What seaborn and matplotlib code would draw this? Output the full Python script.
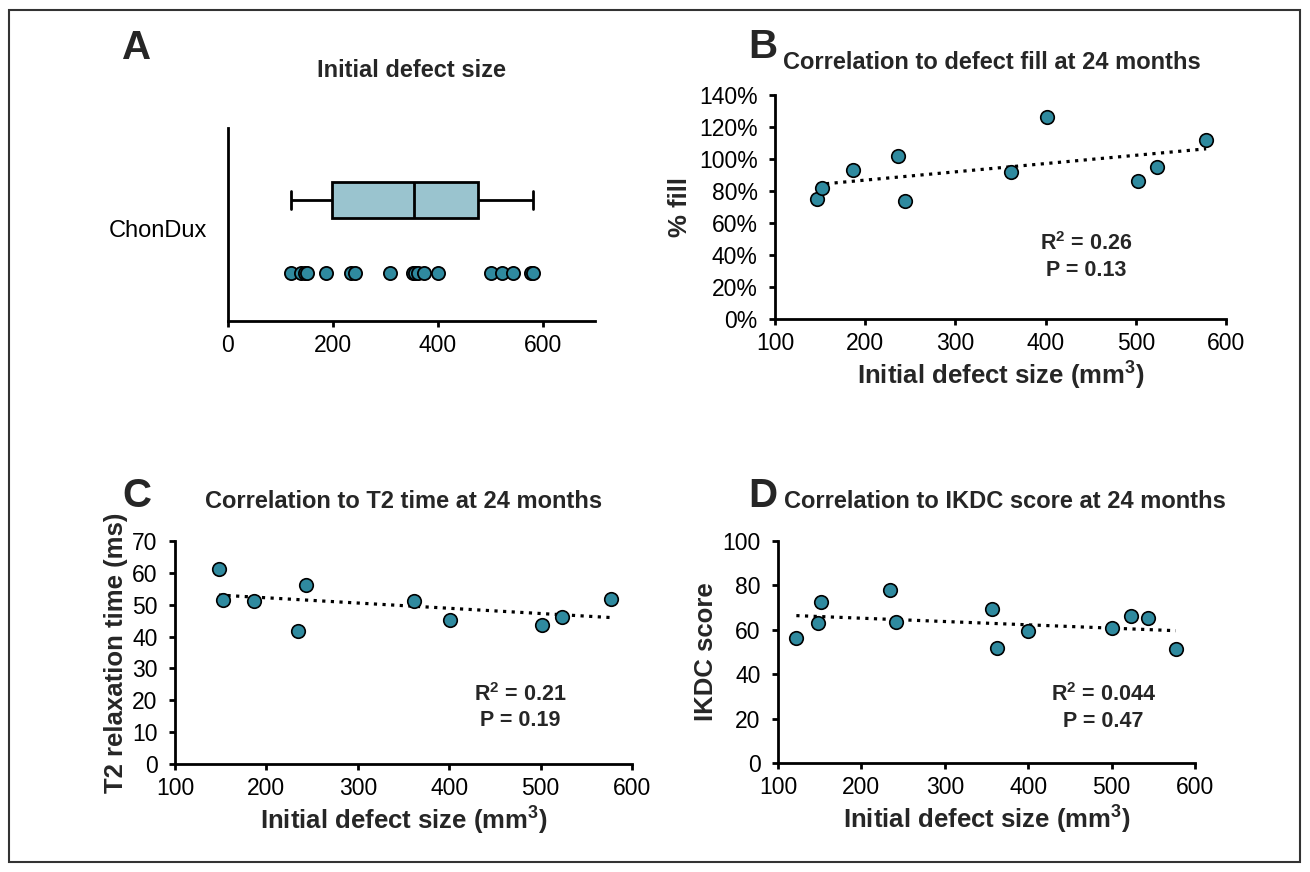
import numpy as np
import pandas as pd
import matplotlib
matplotlib.use("Agg")
import matplotlib.pyplot as plt
import seaborn as sns
from matplotlib.ticker import PercentFormatter
from matplotlib.patches import Rectangle

# Panel A: initial defect sizes (mm3), all patients
sizes_all = [121, 140, 147, 151, 186, 235, 243, 309, 352, 357, 362, 374, 401, 501, 523, 544, 578, 582]

# Panel B: % fill at 24 months
fill_size = [147, 152, 186, 236, 244, 362, 402, 502, 524, 578]
fill_pct = [75, 82, 93, 102, 74, 92, 126, 86, 95, 112]

# Panel C: T2 relaxation time at 24 months
t2_size = [148, 152, 186, 235, 243, 362, 401, 501, 523, 577]
t2_ms = [61.1, 51.4, 51.2, 41.9, 56.3, 51.1, 45.1, 43.7, 46.3, 51.8]

# Panel D: IKDC score at 24 months
ikdc_size = [122, 148, 152, 234, 242, 357, 362, 400, 501, 523, 544, 577]
ikdc_score = [56.4, 63.0, 72.6, 77.8, 63.3, 69.3, 51.6, 59.3, 60.6, 66.2, 65.1, 51.2]

stats_b = ["R$^2$ = 0.26", "P = 0.13"]
stats_c = ["R$^2$ = 0.21", "P = 0.19"]
stats_d = ["R$^2$ = 0.044", "P = 0.47"]

TEAL = "#2f8a9f"
BOXFILL = "#9ac4cf"

TICK_FS = 16.5
LABEL_FS = 18.5
TITLE_FS = 17

sns.set_theme(style="ticks")
plt.rcParams["font.family"] = ["Liberation Sans", "DejaVu Sans"]
plt.rcParams["mathtext.fontset"] = "custom"
plt.rcParams["mathtext.rm"] = "Liberation Sans:bold"
plt.rcParams["mathtext.bf"] = "Liberation Sans:bold"

W, H = 1310, 872
fig = plt.figure(figsize=(W / 100, H / 100), dpi=100)
fig.patch.set_facecolor("white")


def px_axes(left, top, right, bottom):
    return fig.add_axes([left / W, 1 - bottom / H, (right - left) / W, (bottom - top) / H])


def style_axes(ax):
    for s in ["top", "right"]:
        ax.spines[s].set_visible(False)
    for s in ["left", "bottom"]:
        ax.spines[s].set_linewidth(2.0)
        ax.spines[s].set_color("black")
    ax.tick_params(direction="out", length=4.5, width=2.0, labelsize=TICK_FS, colors="black")
    ax.tick_params(axis="y", pad=8)
    ax.tick_params(axis="x", pad=5)
    ax.set_facecolor("white")


# ---------- Panel A ----------
axA = px_axes(228, 128, 595, 321)
n = len(sizes_all)
sns.boxplot(x=sizes_all, y=np.full(n, 0.627), orient="h", native_scale=True, width=0.19,
            color=BOXFILL, saturation=1, linecolor="black", linewidth=2,
            showfliers=False, ax=axA)
sns.stripplot(x=sizes_all, y=np.full(n, 0.25), orient="h", native_scale=True, jitter=False,
              size=9.5, color=TEAL, edgecolor="black", linewidth=1.3, ax=axA)
axA.set_xlim(0, 700)
axA.set_ylim(0, 1)
axA.set_xticks([0, 200, 400, 600])
axA.set_yticks([0.48])
axA.set_yticklabels(["ChonDux"])
style_axes(axA)
axA.tick_params(axis="y", length=0, pad=15, labelsize=17)
axA.set_title("Initial defect size", fontsize=TITLE_FS, fontweight="bold", pad=37)

# ---------- scatter panels ----------
def scatter_panel(ax, x, y, stats, tx, ty):
    df = pd.DataFrame({"x": x, "y": y})
    sns.regplot(data=df, x="x", y="y", scatter=False, ci=None, ax=ax,
                line_kws=dict(color="black", lw=2.3, ls=(0, (1, 1.7)), zorder=2))
    sns.scatterplot(data=df, x="x", y="y", s=95, color=TEAL, edgecolor="black",
                    linewidth=1.2, zorder=3, ax=ax)
    ax.set_xlim(100, 600)
    ax.set_xticks(range(100, 601, 100))
    style_axes(ax)
    ax.set_xlabel("Initial defect size (mm$^3$)", fontsize=LABEL_FS, fontweight="bold", labelpad=2)
    ax.text(tx, ty, "\n".join(stats), transform=ax.transAxes, ha="center", va="center",
            fontsize=15.5, fontweight="bold", linespacing=1.3)


axB = px_axes(775, 95, 1226, 319)
scatter_panel(axB, fill_size, fill_pct, stats_b, 0.69, 0.28)
axB.set_ylim(0, 140)
axB.set_yticks(range(0, 141, 20))
axB.yaxis.set_major_formatter(PercentFormatter(100, decimals=0))
axB.set_ylabel("% fill", fontsize=LABEL_FS, fontweight="bold", labelpad=5)
axB.set_title("Correlation to defect fill at 24 months", fontsize=TITLE_FS, fontweight="bold",
              pad=19, x=0.48)

axC = px_axes(175, 541, 632, 764)
scatter_panel(axC, t2_size, t2_ms, stats_c, 0.755, 0.255)
axC.set_ylim(0, 70)
axC.set_yticks(range(0, 71, 10))
axC.set_ylabel("T2 relaxation time (ms)", fontsize=LABEL_FS, fontweight="bold", labelpad=3)
axC.set_title("Correlation to T2 time at 24 months", fontsize=TITLE_FS, fontweight="bold", pad=24)

axD = px_axes(778, 541, 1195, 763)
scatter_panel(axD, ikdc_size, ikdc_score, stats_d, 0.78, 0.25)
axD.set_ylim(0, 100)
axD.set_yticks(range(0, 101, 20))
axD.set_ylabel("IKDC score", fontsize=LABEL_FS, fontweight="bold", labelpad=3)
axD.set_title("Correlation to IKDC score at 24 months", fontsize=TITLE_FS, fontweight="bold",
              pad=24, x=0.545)

# panel letters
for letter, (px, py) in {"A": (137, 48), "B": (763, 47), "C": (137, 496), "D": (763, 496)}.items():
    fig.text(px / W, 1 - py / H, letter, fontsize=29, fontweight="bold", ha="center", va="center")

# outer frame
fig.patches.append(Rectangle((9 / W, 10 / H), 1291 / W, 852 / H, transform=fig.transFigure,
                             fill=False, edgecolor="#333333", linewidth=1.5))

fig.savefig("out.png", dpi=100, facecolor="white")
